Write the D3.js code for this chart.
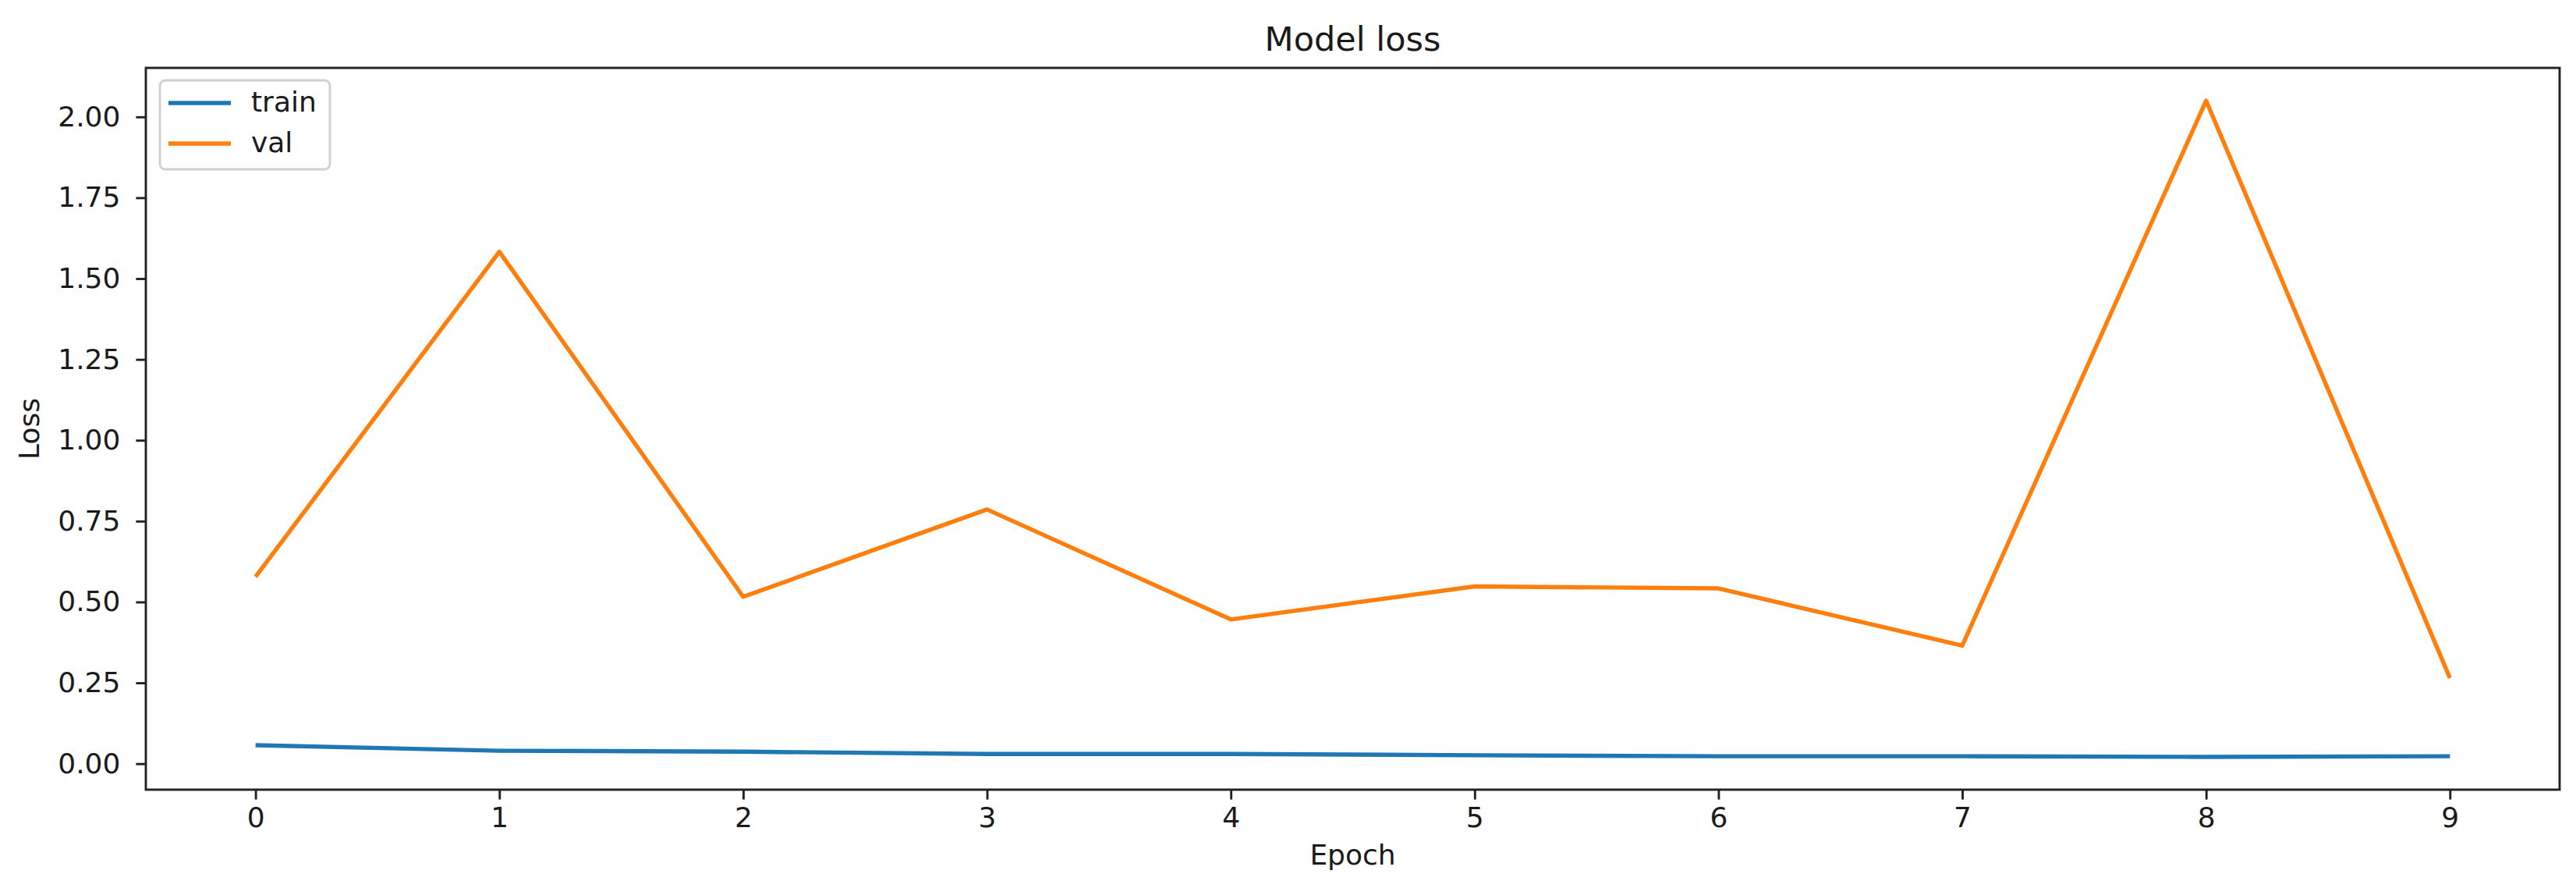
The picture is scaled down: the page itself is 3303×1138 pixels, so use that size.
<!DOCTYPE html>
<html>
<head>
<meta charset="utf-8">
<script src="https://cdn.jsdelivr.net/npm/d3@7"></script>
<style>
  html, body { margin: 0; padding: 0; background: #fff; }
  svg { display: block; }
  text { font-family: "DejaVu Sans", sans-serif; fill: #1a1a1a; }
</style>
</head>
<body>
<script>
const epochs = [0, 1, 2, 3, 4, 5, 6, 7, 8, 9];
const trainLoss = [0.057, 0.040, 0.037, 0.030, 0.030, 0.026, 0.023, 0.023, 0.021, 0.023];
const valLoss = [0.578, 1.583, 0.516, 0.786, 0.446, 0.548, 0.542, 0.365, 2.050, 0.265];
const xTicks = [0, 1, 2, 3, 4, 5, 6, 7, 8, 9];
const yTicks = [0.00, 0.25, 0.50, 0.75, 1.00, 1.25, 1.50, 1.75, 2.00];
const seriesNames = ["train", "val"];
const seriesColors = ["#1f77b4", "#ff7f0e"];
const titleText = "Model loss";
const xLabelText = "Epoch";
const yLabelText = "Loss";

const W = 3303, H = 1138;
const m = { left: 187, right: W - 3282, top: 87, bottom: H - 1012 };
const iw = W - m.left - m.right, ih = H - m.top - m.bottom;

const svg = d3.select("body").append("svg").attr("width", W).attr("height", H);
const g = svg.append("g").attr("transform", `translate(${m.left},${m.top})`);

// matplotlib-like 5% margins
const xExt = d3.extent(epochs);
const xPad = (xExt[1] - xExt[0]) * 0.05;
const allY = trainLoss.concat(valLoss);
const yExt = d3.extent(allY);
const yPad = (yExt[1] - yExt[0]) * 0.05;

const x = d3.scaleLinear().domain([xExt[0] - xPad, xExt[1] + xPad]).range([0, iw]);
const y = d3.scaleLinear().domain([yExt[0] - yPad, yExt[1] + yPad]).range([ih, 0]);

const tickLen = 12.6, strokeW = 2.9, fontSize = 36;

// X axis
const xAxis = g.append("g").attr("transform", `translate(0,${ih})`)
  .call(d3.axisBottom(x).tickValues(xTicks).tickFormat(d3.format("d")).tickSize(tickLen).tickPadding(10));
xAxis.select(".domain").remove();
xAxis.selectAll("line").attr("stroke", "#222").attr("stroke-width", strokeW);
xAxis.selectAll("text").style("font-size", fontSize + "px").attr("fill", "#1a1a1a");

// Y axis
const yAxis = g.append("g")
  .call(d3.axisLeft(y).tickValues(yTicks).tickFormat(d3.format(".2f")).tickSize(tickLen).tickPadding(20));
yAxis.select(".domain").remove();
yAxis.selectAll("line").attr("stroke", "#222").attr("stroke-width", strokeW);
yAxis.selectAll("text").style("font-size", fontSize + "px").attr("fill", "#1a1a1a");

// Lines
const line = d3.line().x((d, i) => x(epochs[i])).y(d => y(d));
[trainLoss, valLoss].forEach((s, k) => {
  g.append("path").datum(s).attr("d", line)
    .attr("fill", "none").attr("stroke", seriesColors[k])
    .attr("stroke-width", 5.4).attr("stroke-linejoin", "round").attr("stroke-linecap", "butt");
});

// Spines
g.append("rect").attr("x", 0).attr("y", 0).attr("width", iw).attr("height", ih)
  .attr("fill", "none").attr("stroke", "#222").attr("stroke-width", strokeW);

// Title
svg.append("text").attr("x", m.left + iw / 2).attr("y", 65)
  .attr("text-anchor", "middle").style("font-size", "43px").text(titleText);

// X label
svg.append("text").attr("x", m.left + iw / 2).attr("y", 1108)
  .attr("text-anchor", "middle").style("font-size", fontSize + "px").text(xLabelText);

// Y label
svg.append("text").attr("transform", `translate(50,${m.top + ih / 2}) rotate(-90)`)
  .attr("text-anchor", "middle").style("font-size", fontSize + "px").text(yLabelText);

// Legend
const lg = g.append("g").attr("transform", `translate(${205 - m.left},${103 - m.top})`);
lg.append("rect").attr("width", 218).attr("height", 114).attr("rx", 7).attr("ry", 7)
  .attr("fill", "#fff").attr("fill-opacity", 0.8).attr("stroke", "#d0d0d0").attr("stroke-width", 2.9);
seriesNames.forEach((name, k) => {
  const cy = 29 + k * 52;
  lg.append("line").attr("x1", 11).attr("x2", 91).attr("y1", cy).attr("y2", cy)
    .attr("stroke", seriesColors[k]).attr("stroke-width", 5.4);
  lg.append("text").attr("x", 117).attr("y", cy + 11).style("font-size", fontSize + "px").text(name);
});
</script>
</body>
</html>
